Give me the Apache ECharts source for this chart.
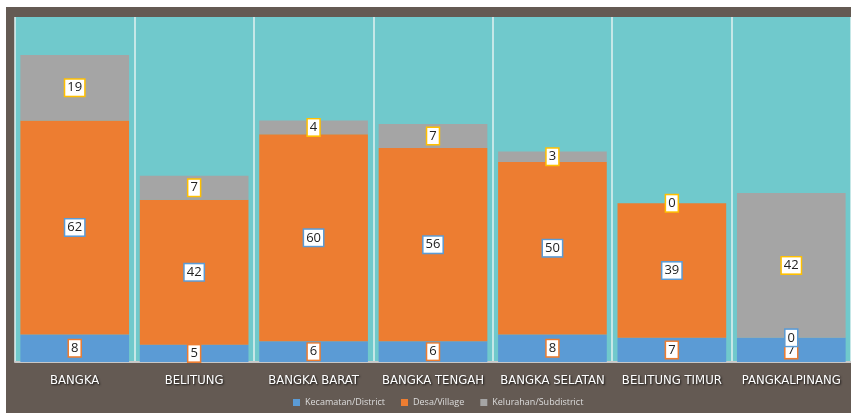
<!DOCTYPE html>
<html><head><meta charset="utf-8">
<script src="https://cdn.jsdelivr.net/npm/echarts@6/dist/echarts.min.js"></script>
<style>
html,body{margin:0;padding:0;background:#ffffff;width:851px;height:413px;overflow:hidden;}
#c{position:absolute;left:6px;top:7px;width:845px;height:406px;}
</style></head>
<body><div id="c"></div>
<script>
const categories = ['BANGKA','BELITUNG','BANGKA BARAT','BANGKA TENGAH','BANGKA SELATAN','BELITUNG TIMUR','PANGKALPINANG'];
const kecamatan = [8,5,6,6,8,7,7];
const desa = [62,42,60,56,50,39,0];
const kelurahan = [19,7,4,7,3,0,42];
const seriesNames = ['Kecamatan/District','Desa/Village','Kelurahan/Subdistrict'];

const colors = ['#5b9bd5','#ed7d31','#a5a5a5'];
const borderColors = ['#ed7d31','#5b9bd5','#ffc000'];
const chart = echarts.init(document.getElementById('c'));
function mk(name, data, i){
  return {
    name, type:'bar', stack:'t', data, barCategoryGap:'9%',
    itemStyle:{color:colors[i]},
    label:{show:true, position:'inside', color:'#222', fontSize:13,
      fontFamily:'Open Sans', backgroundColor:'#fff', borderColor:borderColors[i],
      borderWidth:1.5, padding:[0,2,0,2], lineHeight:16},
    emphasis:{disabled:true}
  };
}
chart.setOption({
  backgroundColor:'#645a53',
  animation:false,
  grid:{left:9, top:10, right:-4, bottom:51},
  xAxis:{type:'category', data:categories,
    axisLine:{lineStyle:{color:'#c8c8c8', width:2}},
    axisTick:{show:false},
    splitLine:{show:true, interval:0, lineStyle:{color:'rgba(225,240,240,0.75)', width:2}},
    splitArea:{show:true, interval:0, areaStyle:{color:['#70c9cc','#70c9cc']}},
    axisLabel:{interval:0, color:'#ffffff', fontSize:13, margin:12,
      fontFamily:'Liberation Sans Narrow, DejaVu Sans Condensed, sans-serif',
      textShadowColor:'rgba(0,0,0,0.8)', textShadowBlur:2, textShadowOffsetX:1, textShadowOffsetY:1}
  },
  yAxis:{type:'value', min:0, max:100, show:false, splitLine:{show:false}},
  legend:{left:282, bottom:1, itemWidth:7, itemHeight:7, itemGap:16, icon:'rect',
    textStyle:{color:'#dddddd', fontSize:9, fontFamily:'Open Sans'}, data:seriesNames},
  series:[mk(seriesNames[0],kecamatan,0), mk(seriesNames[1],desa,1), mk(seriesNames[2],kelurahan,2)]
});
</script></body></html>
